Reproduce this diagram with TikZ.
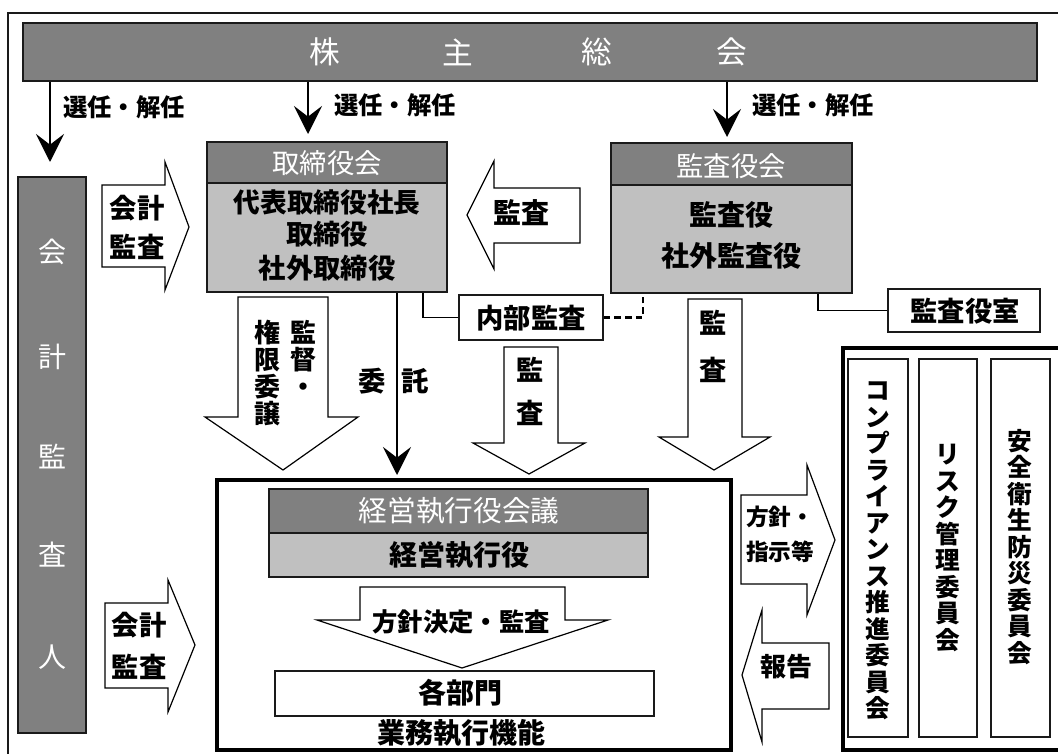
\documentclass[tikz,border=0pt]{standalone}
\usepackage{fontspec}
\newfontfamily\jp{Noto Sans CJK JP}
\usetikzlibrary{fit,arrows.meta,calc}
\definecolor{dgray}{HTML}{808080}
\definecolor{lgray}{HTML}{C0C0C0}
\definecolor{edge}{HTML}{1A1A1A}
\newcommand\fs[1]{\fontsize{#1}{#1}\selectfont}
\begin{document}
\begin{tikzpicture}[x=0.75pt,y=-0.75pt,
 box/.style={draw=edge,line width=1.5pt,inner sep=0pt},
 dbox/.style={box,fill=dgray,fit={#1}},
 lbox/.style={box,fill=lgray,fit={#1}},
 wbox/.style={box,line width=1.2pt,fill=white,fit={#1}},
 tbox/.style={draw=black,line width=3.5pt,inner sep=0pt,fit={#1}},
 wt/.style={text=white,inner sep=0pt,font=\jp\fs{20.5}},
 bt/.style={text=black,inner sep=0pt,font=\jp\bfseries\fs{20.5}},
 lt/.style={text=black,inner sep=0pt,font=\jp\bfseries\fs{18.3}},
 vt/.style={text=black,inner sep=0pt,align=center,font=\jp\bfseries\fontsize{18.5}{19.9}\selectfont},
 barrow/.style={draw=black,fill=white,line width=0.9pt,line join=miter},
 tarrow/.style={draw=black,line width=2.2pt,-{Stealth[length=21pt,width=21pt,inset=8pt]}},
 conn/.style={draw=black,line width=1pt},
 dconn/.style={draw=black,line width=2pt,dash pattern=on 5pt off 3pt},
]
\useasboundingbox (0,0) rectangle (1058,754);
% outer frame
\draw[draw=edge,line width=1.5pt] (8,780) -- (8,13) -- (1080,13);

% shareholders meeting
\node[dbox={(23,23)(1037,81)}] (sh) {};
\node[wt,font=\jp\fs{23}] (sh1) at (325,52) {株};
\node[wt,font=\jp\fs{23}] (sh2) at (458,52) {主};
\node[wt,font=\jp\fs{23}] (sh3) at (597,52) {総};
\node[wt,font=\jp\fs{23}] (sh4) at (732,52) {会};

% accounting auditor
\node[dbox={(18,177)(86,733)}] (kk) {};
\node[wt,font=\jp\fs{21}] (kk1) at (52,252) {会};
\node[wt,font=\jp\fs{21}] (kk2) at (52,357) {計};
\node[wt,font=\jp\fs{21}] (kk3) at (52,457) {監};
\node[wt,font=\jp\fs{21}] (kk4) at (52,555) {査};
\node[wt,font=\jp\fs{21}] (kk5) at (52,657) {人};

% board of directors
\node[dbox={(207,142)(447,183)}] (tbh) {};
\node[lbox={(207,183)(447,292)}] (tbb) {};
\node[wt] (tbt) at (327,163) {取締役会};
\node[bt,font=\jp\bfseries\fs{20}] (tb1) at (327,202) {代表取締役社長};
\node[bt] (tb2) at (327,234) {取締役};
\node[bt] (tb3) at (327,268) {社外取締役};

% audit board
\node[dbox={(611,143)(852,185)}] (ksh) {};
\node[lbox={(611,185)(852,293)}] (ksb) {};
\node[wt] (kst) at (731,166) {監査役会};
\node[bt,font=\jp\bfseries\fs{21}] (ks1) at (731,215) {監査役};
\node[bt,font=\jp\bfseries\fs{21}] (ks2) at (731,256) {社外監査役};

% internal audit and audit office
\node[wbox={(459,295)(603,340)}] (nb) {};
\node[bt] (nbt) at (531,318) {内部監査};
\node[wbox={(888,289)(1040,332)}] (ksr) {};
\node[bt] (ksrt) at (965,311) {監査役室};

% selection arrows
\coordinate (x1) at (50,162);
\coordinate (x2) at (308,134);
\coordinate (x3) at (727,137);
\draw[tarrow] (sh.south -| x1) -- (x1);
\draw[tarrow] (sh.south -| x2) -- (x2);
\draw[tarrow] (sh.south -| x3) -- (x3);
\node[lt] (l1) at (124,107) {選任・解任};
\node[lt] (l2) at (395,105) {選任・解任};
\node[lt] (l3) at (813,105) {選任・解任};

% block arrows upper
\draw[barrow] (102,185) -- (165,185) -- (165,162) -- (189,227) -- (165,290) -- (165,267) -- (102,267) -- cycle;
\node[bt] (ka1) at (137,208) {会計};
\node[bt] (ka2) at (137,247) {監査};
\draw[barrow] (580,188) -- (494,188) -- (494,161) -- (467,215) -- (494,269) -- (494,243) -- (580,243) -- cycle;
\node[bt,font=\jp\bfseries\fs{21}] (kl) at (521,213) {監査};

% connectors to boxes
\coordinate (x5) at (423,0);
\coordinate (x6) at (643,0);
\coordinate (x7) at (818,0);
\draw[conn] (tbb.south -| x5) |- (nb.west);
\draw[dconn] (nb.east) -| (ksb.south -| x6);
\draw[conn] (ksb.south -| x7) |- (ksr.west);

% main executive box
\node[tbox={(217,480)(731,750)}] (main) {};
\node[dbox={(269,489)(648,533)}] (kmh) {};
\node[lbox={(269,533)(648,577)}] (kmb) {};
\node[wt,font=\jp\fs{21.5}] (kmt) at (459,511) {経営執行役会議};
\node[bt,font=\jp\bfseries\fs{21}] (kmbt) at (459,555) {経営執行役};
\draw[barrow] (360,587) -- (565,587) -- (565,620) -- (608,620) -- (462,668) -- (317,620) -- (360,620) -- cycle;
\node[bt,font=\jp\bfseries\fs{19}] (hk) at (461,622) {方針決定・監査};
\node[wbox={(275,671)(654,716)}] (bm) {};
\node[bt,font=\jp\bfseries\fs{21}] (bmt) at (460,693) {各部門};
\node[bt,font=\jp\bfseries\fs{21}] (gm) at (461,733) {業務執行機能};

% downward arrows
\draw[barrow] (238,297) -- (328,297) -- (328,417) -- (358,417) -- (283,470) -- (205,417) -- (238,417) -- cycle;
\node[vt,anchor=north,font=\jp\bfseries\fontsize{19.5}{20.2}\selectfont] (kt1) at (303,320) {監\\督\\・};
\node[vt,anchor=north,font=\jp\bfseries\fontsize{19.5}{20.2}\selectfont] (kt2) at (267,320) {権\\限\\委\\譲};
\coordinate (x4) at (397,475);
\draw[tarrow] (tbb.south -| x4) -- (x4);
\node[bt] (it1) at (372,381) {委};
\node[bt] (it2) at (415,381) {託};
\draw[barrow] (504,347) -- (558,347) -- (558,443) -- (585,443) -- (529,474) -- (473,443) -- (504,443) -- cycle;
\node[bt] (na1) at (530,370) {監};
\node[bt] (na2) at (530,413) {査};
\draw[barrow] (688,299) -- (742,299) -- (742,437) -- (770,437) -- (714,470) -- (659,437) -- (688,437) -- cycle;
\node[bt] (ma1) at (713,323) {監};
\node[bt] (ma2) at (713,370) {査};

% lower left accounting audit
\draw[barrow] (105,603) -- (168,603) -- (168,580) -- (195,645) -- (168,712) -- (168,688) -- (105,688) -- cycle;
\node[bt] (kb1) at (139,625) {会計};
\node[bt] (kb2) at (139,667) {監査};

% policy / report arrows
\draw[barrow] (741,495) -- (807,495) -- (807,465) -- (835,540) -- (807,615) -- (807,584) -- (741,584) -- cycle;
\node[bt,anchor=west,font=\jp\bfseries\fs{17}] (hs1) at (746,517) {方針・};
\node[bt,anchor=west,font=\jp\bfseries\fs{17}] (hs2) at (746,552) {指示等};
\draw[barrow] (829,643) -- (762,643) -- (762,610) -- (742,675) -- (762,742) -- (762,709) -- (829,709) -- cycle;
\node[bt,font=\jp\bfseries\fs{19.5}] (hk2) at (786,667) {報告};

% committees
\node[tbox={(843,348)(1080,750)}] (cm) {};
\node[wbox={(848,359)(908,737)}] (c1) {};
\node[wbox={(919,359)(977,737)}] (c2) {};
\node[wbox={(991,359)(1050,737)}] (c3) {};
\node[vt] (c1t) at (878,551) {コ\\ン\\プ\\ラ\\イ\\ア\\ン\\ス\\推\\進\\委\\員\\会};
\node[vt] (c2t) at (948,548) {リ\\ス\\ク\\管\\理\\委\\員\\会};
\node[vt] (c3t) at (1020,547) {安\\全\\衛\\生\\防\\災\\委\\員\\会};
\end{tikzpicture}
\end{document}
